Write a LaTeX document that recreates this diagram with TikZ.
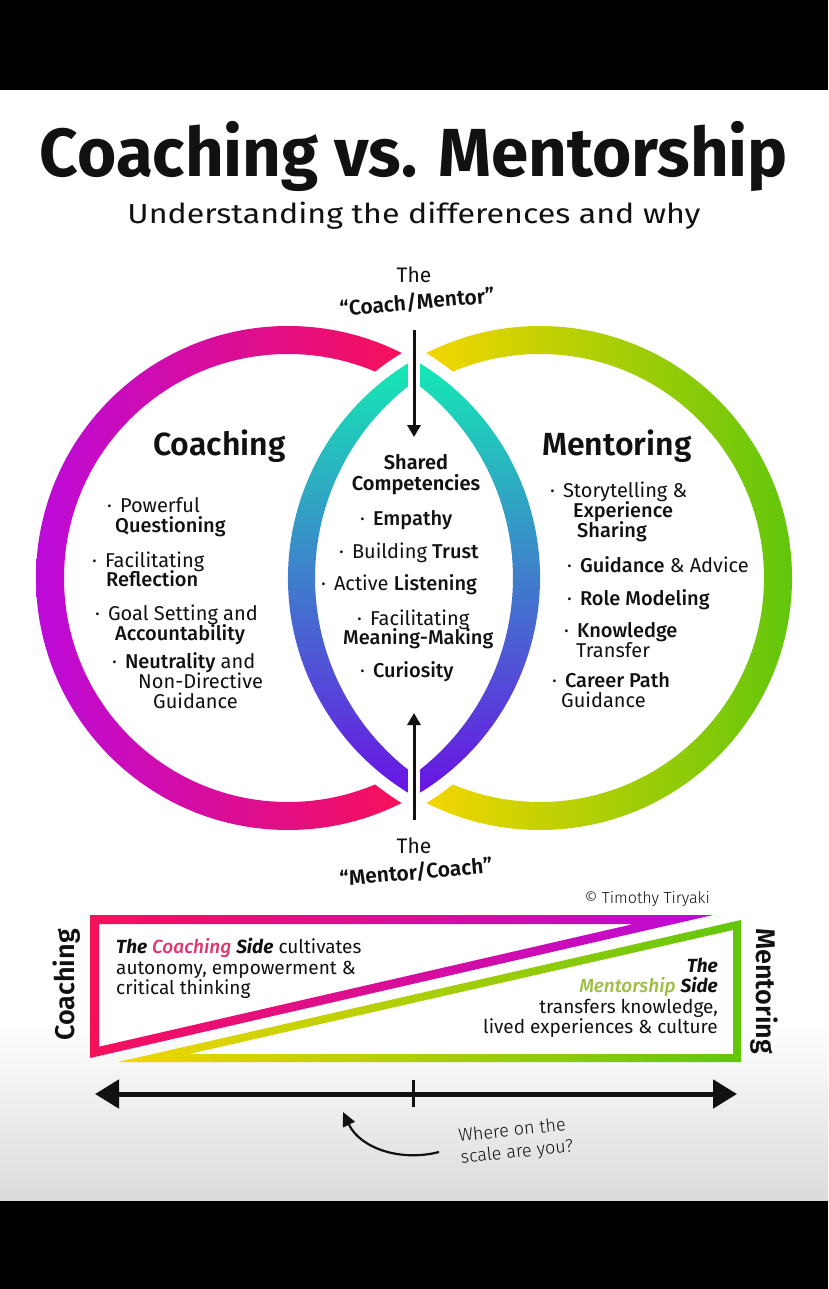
\documentclass[tikz,border=0pt]{standalone}
\usepackage{fontspec}
\usepackage{graphicx}
\setmainfont{Fira Sans}
\newfontfamily\medfont{Fira Sans Medium}
\newfontfamily\semifont{Fira Sans SemiBold}
\newfontfamily\lightfont{Fira Sans Light}
\usetikzlibrary{arrows.meta}

\definecolor{ringviolet}{HTML}{BC0ADA}
\definecolor{ringred}{HTML}{F5105A}
\definecolor{ringyellow}{HTML}{F2D600}
\definecolor{ringgreen}{HTML}{62C60C}
\definecolor{lensteal}{HTML}{14EAB4}
\definecolor{lensblue}{HTML}{3A86C8}
\definecolor{lensviolet}{HTML}{6A12E4}
\definecolor{coachpink}{HTML}{E2336E}
\definecolor{mentorlime}{HTML}{9CC03C}
\definecolor{ink}{HTML}{111111}

\pgfdeclarehorizontalshading{coachring}{100bp}{color(0bp)=(ringviolet); color(25bp)=(ringviolet); color(61bp)=(ringred); color(100bp)=(ringred)}
\pgfdeclarehorizontalshading{mentorring}{100bp}{color(0bp)=(ringyellow); color(39bp)=(ringyellow); color(75bp)=(ringgreen); color(100bp)=(ringgreen)}

\newcommand{\md}[1]{{\medfont #1}}
\newcommand{\bul}{·\hspace{8pt}}

\begin{document}
\begin{tikzpicture}[x=1pt,y=-1pt,
    entry/.style={font=\fontsize{20}{20}\selectfont, text=ink, anchor=base west, inner sep=0pt},
    heading/.style={font=\semifont\fontsize{32}{32}\selectfont, text=ink, anchor=base west, inner sep=0pt},
    shared/.style={font=\semifont\fontsize{20}{20}\selectfont, text=ink, anchor=base, inner sep=0pt},
    note/.style={font=\fontsize{19}{21}\selectfont, text=ink, inner sep=0pt},
    tag/.style={font=\semifont\fontsize{21}{21}\selectfont, text=ink, inner sep=0pt, rotate=5},
    side/.style={font=\semifont\fontsize{27}{27}\selectfont, text=ink, inner sep=0pt},
    pointer/.style={-{Triangle[length=12pt,width=13pt]}, line width=3pt, ink},
]
\useasboundingbox (0,0) rectangle (828,1289);
\fill[black] (0,0) rectangle (828,1289);
\fill[white] (0,90) rectangle (828,1021);
\shade[top color=white, bottom color=black!14] (0,1020) rectangle (828,1200);

% title
\node[font=\bfseries\fontsize{68}{70}\selectfont, text=ink, anchor=base, inner sep=0pt] (title) at (414,177) {\resizebox{748pt}{\height}{Coaching vs. Mentorship}};
\node[font=\fontsize{27.5}{28}\selectfont, text=ink, anchor=base, inner sep=0pt] (subtitle) at (414,224) {\resizebox{573pt}{\height}{Understanding the differences and why}};

% rings
\coordinate (c1) at (288,578);
\coordinate (c2) at (540,578);
\shade[shading=coachring, even odd rule] (c1) circle[radius=252] (c1) circle[radius=224];
\shade[shading=mentorring, even odd rule] (c2) circle[radius=252] (c2) circle[radius=224];

% lens cut out of both rings, then its own ring
\path[fill=white, draw=white, line width=24pt] (414,359.8) arc[start angle=240, end angle=120, radius=252] arc[start angle=60, end angle=-60, radius=252] -- cycle;
\shade[top color=lensteal, middle color=lensblue, bottom color=lensviolet, even odd rule]
  (414,359.8) arc[start angle=240, end angle=120, radius=252] arc[start angle=60, end angle=-60, radius=252] -- cycle
  (414,381.8) arc[start angle=233.53, end angle=126.47, radius=244] arc[start angle=53.53, end angle=-53.53, radius=244] -- cycle;
\fill[white] (408,335) rectangle (420,822);

% arrows into the lens
\coordinate (topfrom) at (414,330);
\coordinate (topto) at (414,437);
\coordinate (botfrom) at (414,820);
\coordinate (botto) at (414,713);
\draw[pointer] (topfrom) -- (topto);
\draw[pointer] (botfrom) -- (botto);

\node[font=\fontsize{21}{21}\selectfont, text=ink, anchor=base, inner sep=0pt] (thetop) at (414,282) {The};
\node[tag] (coachmentor) at (417,302) {“Coach/Mentor”};
\node[font=\fontsize{21}{21}\selectfont, text=ink, anchor=base, inner sep=0pt] (thebot) at (414,853) {The};
\node[tag] (mentorcoach) at (416,872) {“Mentor/Coach”};

% coaching circle
\node[heading] (coaching) at (153,455) {Coaching};
\node[entry] (l1a) at (107,512) {\bul Powerful};
\node[entry] (l1b) at (115,532) {\md{Questioning}};
\node[entry] (l2a) at (92,567) {\bul Facilitating};
\node[entry] (l2b) at (106,586) {\md{Reflection}};
\node[entry] (l3a) at (95,620) {\bul Goal Setting and};
\node[entry] (l3b) at (115,640) {\md{Accountability}};
\node[entry] (l4a) at (112,668) {\bul \md{Neutrality} and};
\node[entry] (l4b) at (138,688) {Non-Directive};
\node[entry] (l4c) at (153,708) {Guidance};

% mentoring circle
\node[heading] (mentoring) at (542,455) {Mentoring};
\node[entry] (r1a) at (550,497) {\bul Storytelling \&};
\node[entry] (r1b) at (573,517) {\md{Experience}};
\node[entry] (r1c) at (577,537) {\md{Sharing}};
\node[entry] (r2a) at (567,572) {\bul \md{Guidance} \& Advice};
\node[entry] (r3a) at (567,605) {\bul \md{Role Modeling}};
\node[entry] (r4a) at (564,637) {\bul \md{Knowledge}};
\node[entry] (r4b) at (576,657) {Transfer};
\node[entry] (r5a) at (552,687) {\bul \md{Career Path}};
\node[entry] (r5b) at (561,707) {Guidance};

% shared lens
\node[shared] (shared) at (416,469) {Shared};
\node[shared] (competencies) at (416,490) {Competencies};
\node[entry] (m1) at (360,525) {\bul \md{Empathy}};
\node[entry] (m2) at (339,558) {\bul Building \md{Trust}};
\node[entry] (m3) at (321,590) {\bul Active \md{Listening}};
\node[entry] (m4a) at (357,625) {\bul Facilitating};
\node[entry] (m4b) at (343,644) {\md{Meaning-Making}};
\node[entry] (m5) at (360,677) {\bul \md{Curiosity}};

% scale triangles
\node[font=\lightfont\fontsize{16}{16}\selectfont, text=ink, anchor=base east, inner sep=0pt] (credit) at (710,903) {© Timothy Tiryaki};
\fill[white] (99,924) -- (633.5,924) -- (99,1046.7) -- cycle;
\shade[left color=ringred, right color=ringviolet, even odd rule]
  (90,915) -- (713,915) -- (90,1058) -- cycle
  (99,924) -- (633.5,924) -- (99,1046.7) -- cycle;
\fill[white] (733,930) -- (733,1054) -- (189,1054) -- cycle;
\shade[left color=ringyellow, right color=ringgreen, even odd rule]
  (741,920) -- (741,1062) -- (118,1062) -- cycle
  (733,930) -- (733,1054) -- (189,1054) -- cycle;

\node[note, anchor=base west] (cs1) at (116,953) {{\bfseries\itshape The} {\color{coachpink}\medfont\itshape Coaching} {\bfseries\itshape Side} cultivates};
\node[note, anchor=base west] (cs2) at (116,974) {autonomy, empowerment \&};
\node[note, anchor=base west] (cs3) at (116,994) {critical thinking};
\node[note, anchor=base east] (ms1) at (718,972) {\bfseries\itshape The};
\node[note, anchor=base east] (ms2) at (718,992) {{\color{mentorlime}\medfont\itshape Mentorship} {\bfseries\itshape Side}};
\node[note, anchor=base east] (ms3) at (718,1013) {transfers knowledge,};
\node[note, anchor=base east] (ms4) at (718,1033) {lived experiences \& culture};

\node[side, rotate=90] (coachside) at (67,985) {Coaching};
\node[side, rotate=-90] (mentorside) at (764,991) {Mentoring};

% the scale
\coordinate (scaleL) at (95,1094);
\coordinate (scaleR) at (737,1094);
\coordinate (tickT) at (413,1080);
\coordinate (tickB) at (413,1107);
\draw[{Triangle[length=24pt,width=28pt]}-{Triangle[length=24pt,width=28pt]}, line width=5pt, ink] (scaleL) -- (scaleR);
\draw[line width=3pt, ink] (tickT) -- (tickB);

\node[font=\lightfont\fontsize{18}{22}\selectfont, text=ink, align=left, inner sep=0pt, rotate=6] (where) at (516,1142) {Where on the\\scale are you?};
\coordinate (curveA) at (439,1152);
\coordinate (curveB) at (343,1112);
\draw[-{Triangle[length=14pt,width=13pt]}, line width=2.2pt, ink] (curveA) .. controls (400,1162) and (360,1148) .. (curveB);
\end{tikzpicture}
\end{document}
